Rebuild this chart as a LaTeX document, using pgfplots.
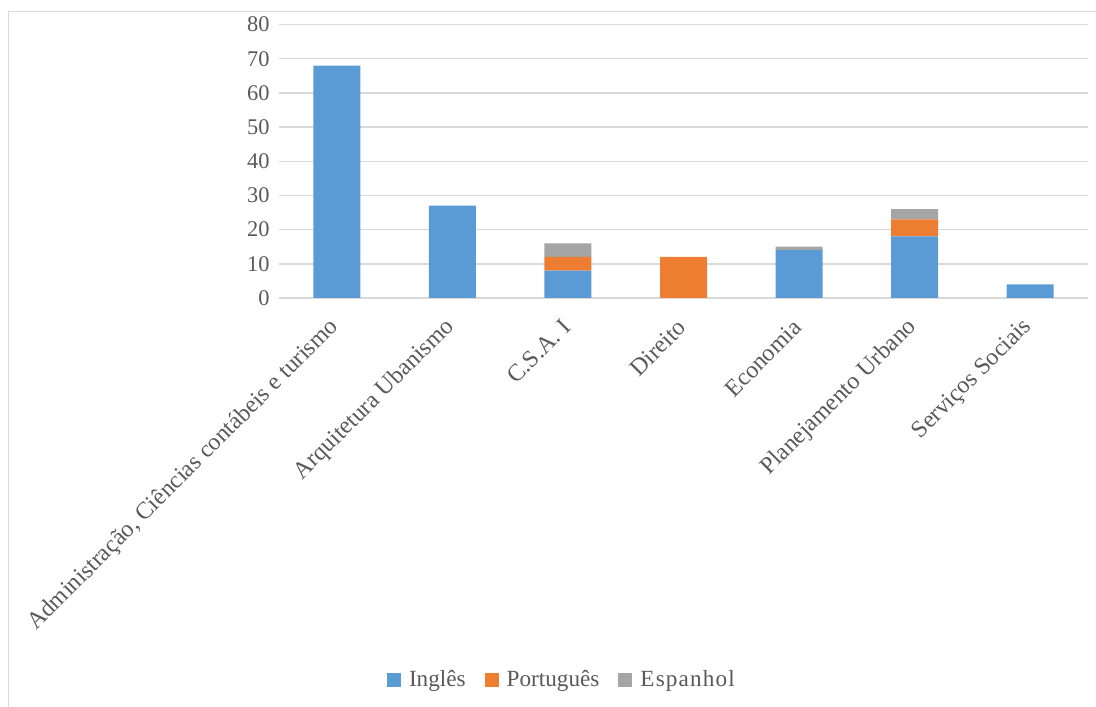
\documentclass[border=0pt]{standalone}
\usepackage{pgfplots}
\pgfplotsset{compat=1.18}
\usepackage{fontspec}
\setmainfont{Liberation Serif}
\definecolor{cIng}{HTML}{5B9BD5}
\definecolor{cPor}{HTML}{ED7D31}
\definecolor{cEsp}{HTML}{A5A5A5}
\definecolor{cGrid}{HTML}{D9D9D9}
\definecolor{cTxt}{HTML}{595959}
\begin{document}
\begin{tikzpicture}
\path[use as bounding box] (0,0) rectangle (548bp,353.5bp);
\draw[cGrid, line width=0.75bp] (4.25bp,-5bp) -- (4.25bp,347.75bp) -- (560bp,347.75bp);
\begin{axis}[
  at={(139.5bp,204.5bp)}, anchor=south west,
  scale only axis, width=404.5bp, height=136.75bp,
  ybar stacked, bar width=23.5bp,
  xmin=-0.5, xmax=6.5, ymin=0, ymax=80,
  enlargelimits=false,
  ytick={0,10,...,80},
  xtick={0,...,6},
  xticklabels={{Administração, Ciências contábeis e turismo},{Arquitetura Ubanismo},{C.S.A. I},{Direito},{Economia},{Planejamento Urbano},{Serviços Sociais}},
  major tick length=0pt,
  axis line style={draw=none},
  ymajorgrids, grid style={cGrid, line width=0.75bp},
  /pgf/number format/assume math mode=true,
  tick label style={text=cTxt},
  yticklabel style={font=\fontsize{11.2bp}{13bp}\selectfont, anchor=east, inner sep=0pt, xshift=-4.5bp},
  xticklabel style={font=\fontsize{12bp}{14bp}\selectfont, rotate=45, anchor=east, inner sep=0pt, xshift=-9.5bp, yshift=-8.5bp},
  legend columns=3,
  legend style={at={(0.351,-1.396)}, anchor=center, draw=none, fill=none,
    font=\fontsize{11.6bp}{14bp}\selectfont, text=cTxt,
    /tikz/every even column/.append style={column sep=7.5bp}},
  legend image code/.code={\fill[#1] (0bp,-3.5bp) rectangle (7bp,3.5bp); \path (9bp,0bp);},
]
\addplot+[fill=cIng, draw=none] coordinates {(0,68) (1,27) (2,8) (3,0) (4,14) (5,18) (6,4)};
\addplot+[fill=cPor, draw=none] coordinates {(0,0) (1,0) (2,4) (3,12) (4,0) (5,5) (6,0)};
\addplot+[fill=cEsp, draw=none] coordinates {(0,0) (1,0) (2,4) (3,0) (4,1) (5,3) (6,0)};
\legend{Inglês,Português,{\addfontfeature{LetterSpace=5}Espanhol}}
\end{axis}
\end{tikzpicture}
\end{document}
